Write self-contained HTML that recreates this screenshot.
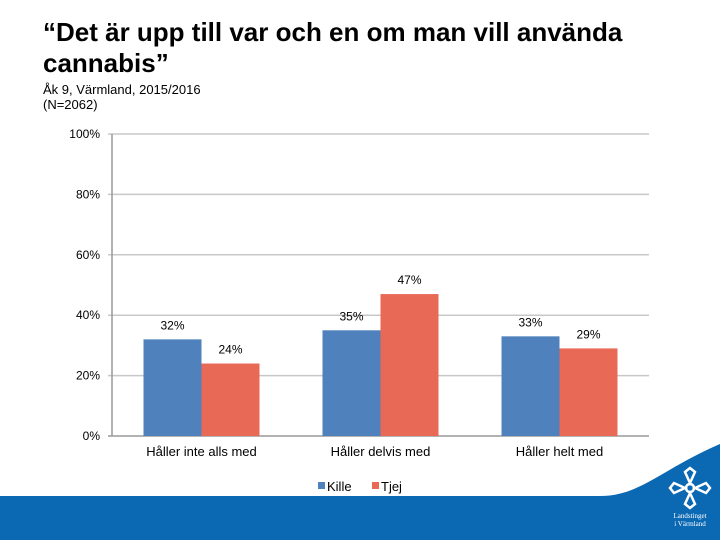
<!DOCTYPE html>
<html><head><meta charset="utf-8"><style>
body{margin:0;width:720px;height:540px;overflow:hidden;background:#fff;font-family:"Liberation Sans",sans-serif;position:relative}
.t{position:absolute;left:43px;top:17px;font-size:26px;font-weight:bold;line-height:31px;color:#000}
.s{position:absolute;left:43px;top:82px;font-size:13px;line-height:15px;color:#000}
svg{position:absolute;left:0;top:0}
</style></head><body>
<div class="t">“Det är upp till var och en om man vill använda<br>cannabis”</div>
<div class="s">Åk 9, Värmland, 2015/2016<br>(N=2062)</div>
<svg id="c" width="720" height="540">
<path d="M0,496 L600,496 C640,496 660,470 720,444 L720,540 L0,540 Z" fill="#0b68b3"/>
<g transform="translate(690,488)" fill="none" stroke="#fff" stroke-width="2.5">
<circle r="4"/><path d="M0,-5 L-5,-16 L0,-20 L5,-16 Z M0,5 L-5,16 L0,20 L5,16Z M-5,0 L-16,-5 L-20,0 L-16,5Z M5,0 L16,-5 L20,0 L16,5Z"/>
</g>
<text x="690" y="518" fill="#fff" font-size="7" text-anchor="middle" font-family="Liberation Serif">Landstinget</text>
<text x="690" y="526" fill="#fff" font-size="7" text-anchor="middle" font-family="Liberation Serif">i Värmland</text>
</svg>
<script>
const categories=["Håller inte alls med","Håller delvis med","Håller helt med"];
const kille=[32,35,33];
const tjej=[24,47,29];
const ticks=[0,20,40,60,80,100];
const ns="http://www.w3.org/2000/svg",svg=document.getElementById('c');
const x0=112,x1=649,yB=436,yT=134;
const y=v=>yB-(v/100)*(yB-yT);
const gw=(x1-x0)/categories.length;
function mk(t,a,txt){const e=document.createElementNS(ns,t);for(const k in a)e.setAttribute(k,a[k]);if(txt!=null)e.textContent=txt;svg.appendChild(e);return e;}
ticks.forEach(t=>{
 const g=mk('line',{x1:x0-4,x2:x1,y1:y(t),y2:y(t),stroke:t?'#c8c8c8':'#999','stroke-width':1.5});
 
 
 const l=mk('text',{x:100,y:y(t)+4,'text-anchor':'end','font-size':12,fill:'#000'},t+'%');
 
 
});
const ax=mk('line',{x1:x0,x2:x0,y1:yT,y2:yB,stroke:'#999','stroke-width':1.5});


const bw=58;
categories.forEach((c,i)=>{
 const cx=x0+gw*(i+0.5);
 [[kille,'#4f81bd',-bw,'kille'],[tjej,'#e96957',0,'tjej']].forEach(([arr,col,off,nm])=>{
  const v=arr[i];
  const r=mk('rect',{x:cx+off,y:y(v),width:bw,height:yB-y(v),fill:col});
  
  
  const t=mk('text',{x:cx+off+bw/2,y:y(v)-10,'text-anchor':'middle','font-size':12,fill:'#000'},v+'%');
  
  
 });
 const l=mk('text',{x:cx,y:456,'text-anchor':'middle','font-size':13,fill:'#000'},c);
 
 
});
[['Kille','#4f81bd',318],['Tjej','#e96957',372]].forEach(([n,col,lx])=>{
 const r=mk('rect',{x:lx,y:482,width:7,height:7,fill:col});
 
 
 const t=mk('text',{x:lx+9,y:491,'font-size':13,fill:'#000'},n);
 
 
});
</script>
</body></html>
